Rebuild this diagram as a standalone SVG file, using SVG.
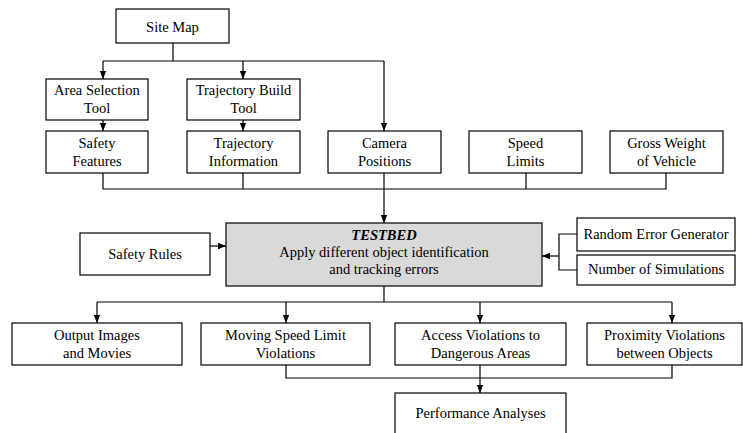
<svg xmlns="http://www.w3.org/2000/svg" width="743" height="433" viewBox="0 0 743 433" font-family="'Liberation Serif', 'Times New Roman', serif">
<style>
.b{fill:#fff;stroke:#000;stroke-width:1.2}
.g{fill:#d9d9d9;stroke:#000;stroke-width:1.2}
text{font-family:"Liberation Serif","Times New Roman",serif;font-size:14.5px;fill:#000;text-anchor:middle}
.c{fill:none;stroke:#000;stroke-width:1.2}
.a{marker-end:url(#ah)}
</style>
<defs>
<marker id="ah" viewBox="0 0 8 8" refX="8" refY="4" markerWidth="8" markerHeight="8" markerUnits="userSpaceOnUse" orient="auto">
<path d="M0,0.8 L8,4 L0,7.2 Z" fill="#000"/>
</marker>
</defs>
<rect width="743" height="433" fill="#fff"/>
<g id="connectors">
<path class="c" d="M173,43 V61 M103,61 H384"/>
<path class="c a" d="M103,61 V79"/>
<path class="c a" d="M243,61 V79"/>
<path class="c a" d="M384,61 V131"/>
<path class="c a" d="M103,120 V131"/>
<path class="c a" d="M243,120 V131"/>
<path class="c" d="M103,173 V189 H666 V173 M243,173 V189 M526,173 V189"/>
<path class="c a" d="M384,173 V223"/>
<path class="c a" d="M210,246 H226"/>
<path class="c" d="M577,234 H559 V270 H577"/>
<path class="c a" d="M559,256 H542"/>
<path class="c" d="M384,286 V302 M97,302 H672"/>
<path class="c a" d="M97,302 V323"/>
<path class="c a" d="M286,302 V323"/>
<path class="c a" d="M480,302 V323"/>
<path class="c a" d="M672,302 V323"/>
<path class="c" d="M286,365 V378 H672 V365"/>
<path class="c a" d="M480,365 V393"/>
</g>
<g id="site-map"><rect class="b" x="116" y="9" width="113" height="34"/><text x="172.5" y="32">Site Map</text></g>
<g id="area-selection"><rect class="b" x="46" y="79" width="102" height="41"/><text x="97" y="95">Area Selection</text><text x="97" y="113">Tool</text></g>
<g id="trajectory-build"><rect class="b" x="187" y="79" width="113" height="41"/><text x="243.5" y="95">Trajectory Build</text><text x="243.5" y="113">Tool</text></g>
<g id="safety-features"><rect class="b" x="46" y="131" width="102" height="42"/><text x="97" y="148">Safety</text><text x="97" y="166">Features</text></g>
<g id="trajectory-info"><rect class="b" x="187" y="131" width="113" height="42"/><text x="243.5" y="148">Trajectory</text><text x="243.5" y="166">Information</text></g>
<g id="camera"><rect class="b" x="328" y="131" width="113" height="42"/><text x="384.5" y="148">Camera</text><text x="384.5" y="166">Positions</text></g>
<g id="speed-limits"><rect class="b" x="469" y="131" width="113" height="42"/><text x="525.5" y="148">Speed</text><text x="525.5" y="166">Limits</text></g>
<g id="gross-weight"><rect class="b" x="610" y="131" width="113" height="42"/><text x="666.5" y="148">Gross Weight</text><text x="666.5" y="166">of Vehicle</text></g>
<g id="testbed"><rect class="g" x="226" y="223" width="316" height="63"/><text x="384" y="240" font-weight="bold" font-style="italic">TESTBED</text><text x="384" y="257">Apply different object identification</text><text x="384" y="274">and tracking errors</text></g>
<g id="safety-rules"><rect class="b" x="80" y="233" width="130" height="42"/><text x="145" y="259">Safety Rules</text></g>
<g id="random-error"><rect class="b" x="577" y="218" width="158" height="33"/><text x="656" y="239">Random Error Generator</text></g>
<g id="num-sims"><rect class="b" x="577" y="255" width="158" height="30"/><text x="656" y="274">Number of Simulations</text></g>
<g id="output-images"><rect class="b" x="12" y="323" width="170" height="42"/><text x="97" y="340">Output Images</text><text x="97" y="358">and Movies</text></g>
<g id="moving-speed"><rect class="b" x="201" y="323" width="169" height="42"/><text x="285.5" y="340">Moving Speed Limit</text><text x="285.5" y="358">Violations</text></g>
<g id="access-violations"><rect class="b" x="395" y="323" width="171" height="42"/><text x="480.5" y="340">Access Violations to</text><text x="480.5" y="358">Dangerous Areas</text></g>
<g id="proximity"><rect class="b" x="587" y="323" width="155" height="42"/><text x="664.5" y="340">Proximity Violations</text><text x="664.5" y="358">between Objects</text></g>
<g id="performance"><rect class="b" x="395" y="393" width="171" height="50"/><text x="480.5" y="418">Performance Analyses</text></g>
</svg>
